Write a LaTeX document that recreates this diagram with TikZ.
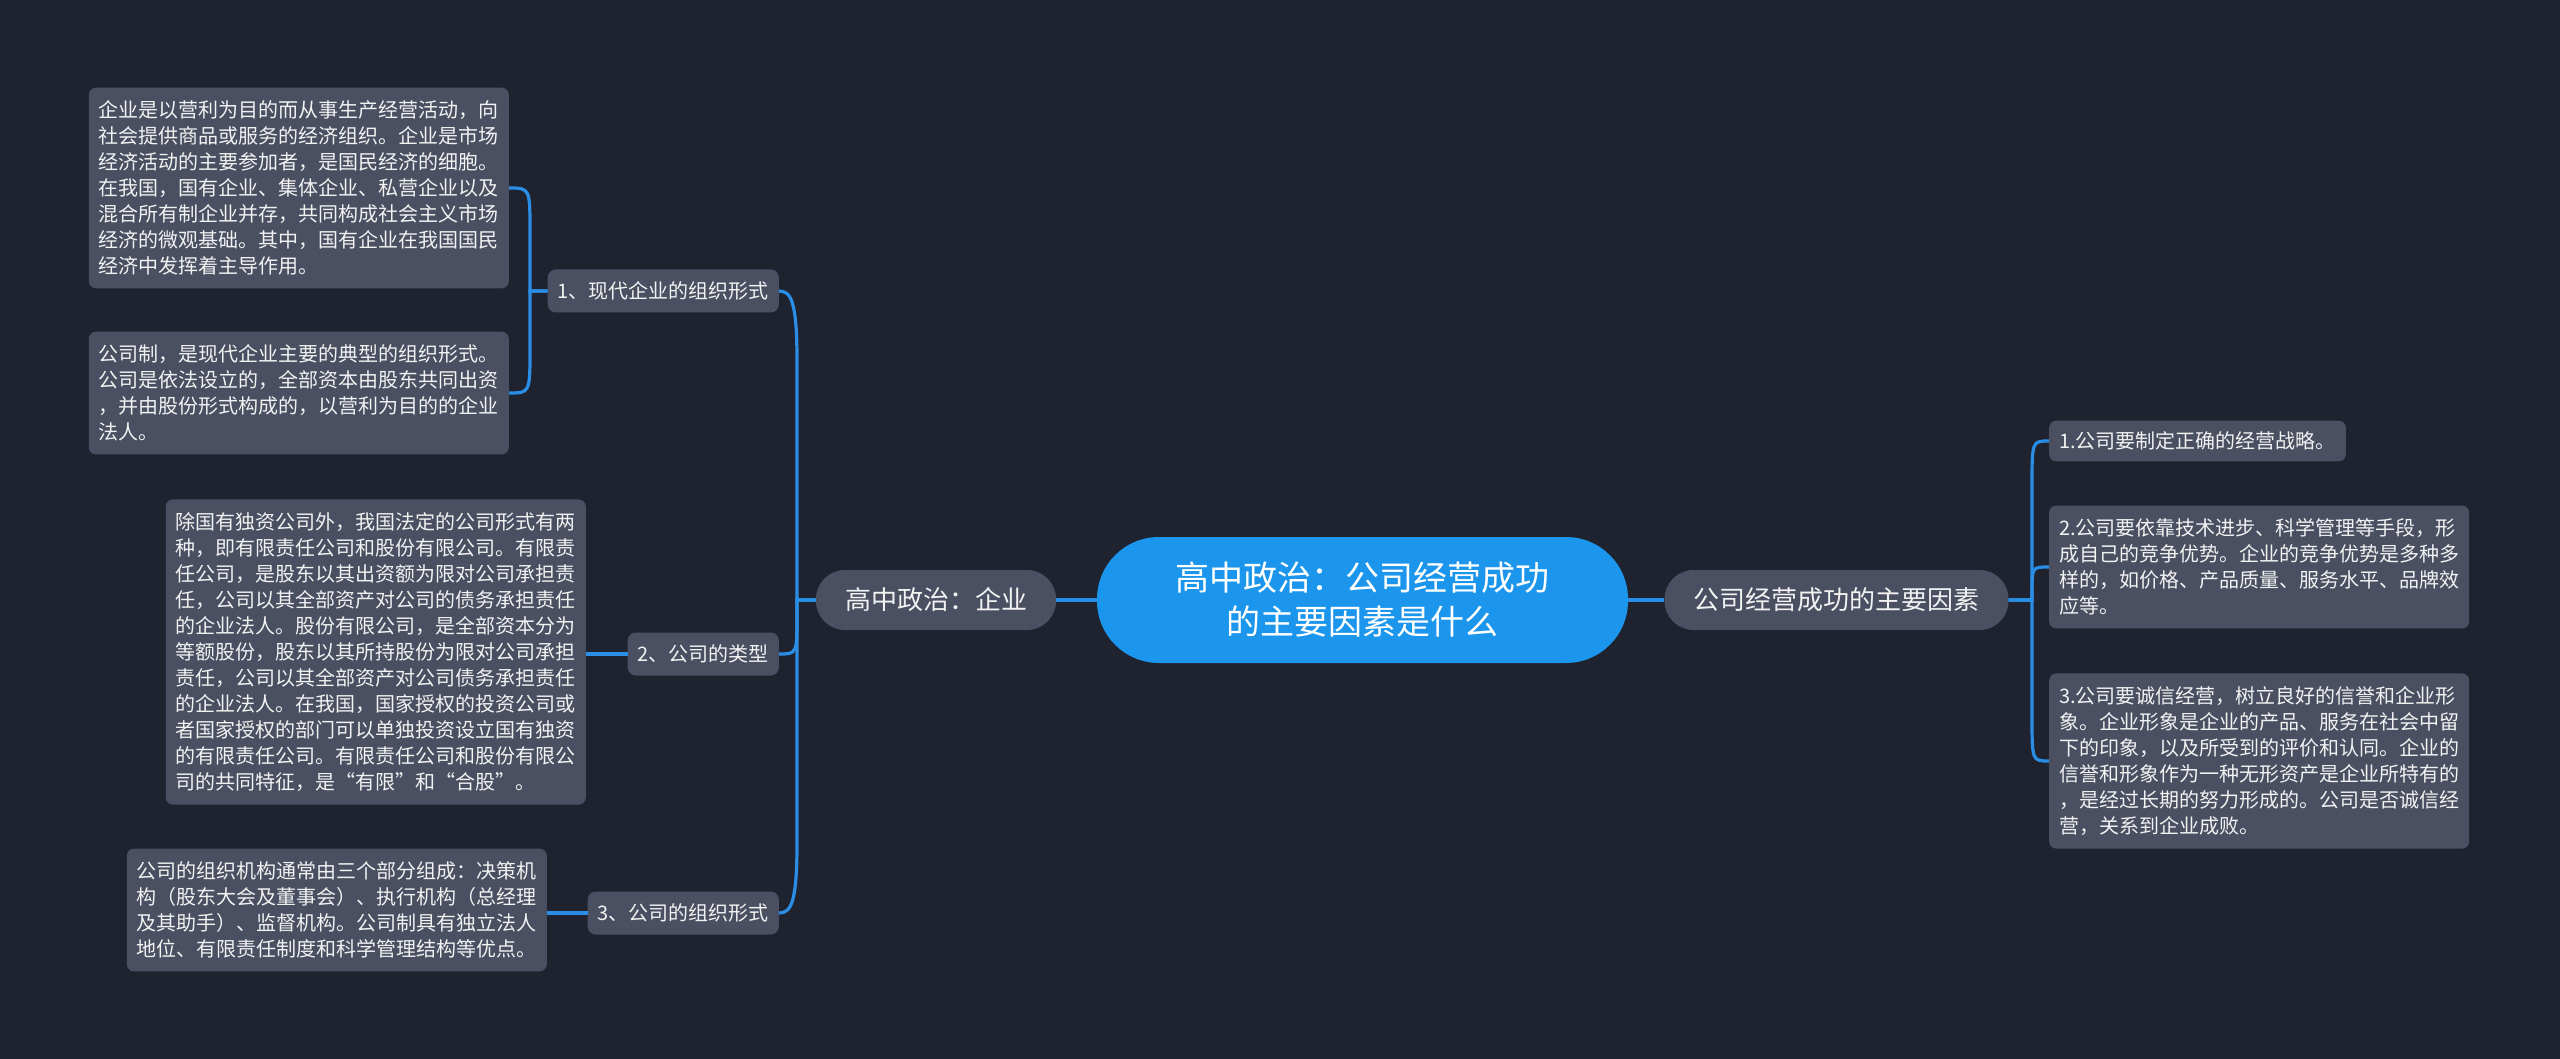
\documentclass[tikz,border=0pt]{standalone}
\usepackage{fontspec}
\newfontfamily\cjk{Noto Sans CJK SC}
\usetikzlibrary{calc}
\definecolor{bg}{HTML}{1F2330}
\definecolor{boxc}{HTML}{4A5061}
\definecolor{rootc}{HTML}{1B96EC}
\definecolor{linec}{HTML}{2A8EE6}
\definecolor{txt}{HTML}{F2F2F2}
\begin{document}
\begin{tikzpicture}[x=1pt,y=-1pt,
 textbox/.style={fill=boxc, rounded corners=7pt, text=txt, font=\cjk\fontsize{20}{26}\selectfont, align=left, inner xsep=10pt, inner ysep=13pt},
 sub/.style={fill=boxc, rounded corners=8pt, text=txt, font=\cjk\fontsize{20}{24}\selectfont, inner xsep=10pt, inner ysep=0pt, minimum height=43pt},
 mainbox/.style={fill=boxc, rounded corners=29pt, text=txt, font=\cjk\fontsize{26}{30}\selectfont, inner xsep=29pt, inner ysep=0pt, minimum height=60pt},
 rootbox/.style={fill=rootc, rounded corners=62pt, text=white, font=\cjk\fontsize{34}{44}\selectfont, align=center, minimum width=531pt, minimum height=126pt},
 link/.style={draw=linec, line width=3.2pt}]
\fill[bg] (0,0) rectangle (2560,1059);
\useasboundingbox (0,0) rectangle (2560,1059);

\node[rootbox] (root) at (1362.5,600) {高中政治：公司经营成功\\的主要因素是什么};
\node[mainbox] (lA) at (936,600) {高中政治：企业};
\node[mainbox] (rA) at (1836.5,600) {公司经营成功的主要因素};

\node[sub, anchor=east] (l1) at (779,291) {1、现代企业的组织形式};
\node[sub, anchor=east] (l2) at (779,654) {2、公司的类型};
\node[sub, anchor=east] (l3) at (779,913) {3、公司的组织形式};

\node[textbox, anchor=east] (ta) at (509,188) {企业是以营利为目的而从事生产经营活动，向\\社会提供商品或服务的经济组织。企业是市场\\经济活动的主要参加者，是国民经济的细胞。\\在我国，国有企业、集体企业、私营企业以及\\混合所有制企业并存，共同构成社会主义市场\\经济的微观基础。其中，国有企业在我国国民\\经济中发挥着主导作用。};
\node[textbox, anchor=east] (tb) at (509,393) {公司制，是现代企业主要的典型的组织形式。\\公司是依法设立的，全部资本由股东共同出资\\，并由股份形式构成的，以营利为目的的企业\\法人。};
\node[textbox, anchor=east] (tc) at (586,652) {除国有独资公司外，我国法定的公司形式有两\\种，即有限责任公司和股份有限公司。有限责\\任公司，是股东以其出资额为限对公司承担责\\任，公司以其全部资产对公司的债务承担责任\\的企业法人。股份有限公司，是全部资本分为\\等额股份，股东以其所持股份为限对公司承担\\责任，公司以其全部资产对公司债务承担责任\\的企业法人。在我国，国家授权的投资公司或\\者国家授权的部门可以单独投资设立国有独资\\的有限责任公司。有限责任公司和股份有限公\\司的共同特征，是“有限”和“合股”。};
\node[textbox, anchor=east] (td) at (547,910) {公司的组织机构通常由三个部分组成：决策机\\构（股东大会及董事会）、执行机构（总经理\\及其助手）、监督机构。公司制具有独立法人\\地位、有限责任制度和科学管理结构等优点。};

\node[textbox, anchor=west, inner ysep=11pt] (r1) at (2049,441) {1.公司要制定正确的经营战略。};
\node[textbox, anchor=west] (r2) at (2049,567) {2.公司要依靠技术进步、科学管理等手段，形\\成自己的竞争优势。企业的竞争优势是多种多\\样的，如价格、产品质量、服务水平、品牌效\\应等。};
\node[textbox, anchor=west] (r3) at (2049,761) {3.公司要诚信经营，树立良好的信誉和企业形\\象。企业形象是企业的产品、服务在社会中留\\下的印象，以及所受到的评价和认同。企业的\\信誉和形象作为一种无形资产是企业所特有的\\，是经过长期的努力形成的。公司是否诚信经\\营，关系到企业成败。};

\coordinate (sL) at (797,0);
\coordinate (sL2) at (530,0);
\coordinate (sR) at (2032,0);

\draw[link] (root.west) -- (lA.east);
\draw[link] (root.east) -- (rA.west);

\draw[link] (lA.west) -- (lA.west -| sL) -- ($(sL |- l1.east)+(0,70)$) .. controls ($(sL |- l1.east)+(0,10)$) and ($(sL |- l1.east)+(-6,0)$) .. (l1.east);
\draw[link] (lA.west) -- (lA.west -| sL) -- ($(sL |- l2.east)+(0,-40)$) .. controls (sL |- l2.east) .. (l2.east);
\draw[link] (lA.west) -- (lA.west -| sL) -- ($(sL |- l3.east)+(0,-70)$) .. controls ($(sL |- l3.east)+(0,-10)$) and ($(sL |- l3.east)+(-6,0)$) .. (l3.east);

\draw[link] (l1.west) -- (l1.west -| sL2) -- ($(sL2 |- ta.east)+(0,45)$) .. controls (sL2 |- ta.east) .. (ta.east);
\draw[link] (l1.west) -- (l1.west -| sL2) -- ($(sL2 |- tb.east)+(0,-45)$) .. controls (sL2 |- tb.east) .. (tb.east);
\draw[link] (l2.west) -- (l2.west -| tc.east);
\draw[link] (l3.west) -- (l3.west -| td.east);

\draw[link] (rA.east) -- (rA.east -| sR) -- ($(sR |- r1.west)+(0,45)$) .. controls (sR |- r1.west) .. (r1.west);
\draw[link] (rA.east) -- (rA.east -| sR) -- ($(sR |- r2.west)+(0,25)$) .. controls (sR |- r2.west) .. (r2.west);
\draw[link] (rA.east) -- (rA.east -| sR) -- ($(sR |- r3.west)+(0,-45)$) .. controls (sR |- r3.west) .. (r3.west);
\end{tikzpicture}
\end{document}
